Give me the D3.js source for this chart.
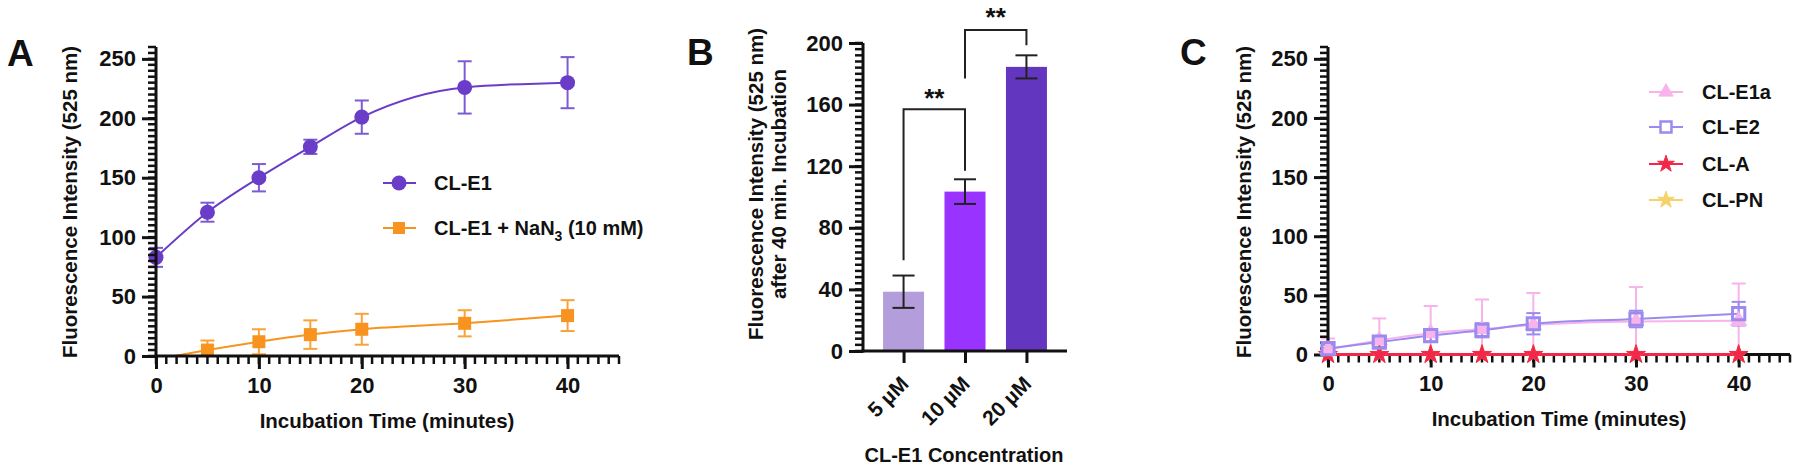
<!DOCTYPE html>
<meta charset="utf-8">
<style>
body { margin: 0; background: #fff; }
text { font-family: "Liberation Sans", Arial, sans-serif; font-weight: bold; fill: #111; }
</style>
<body>
<script src="https://cdn.jsdelivr.net/npm/d3@7"></script>
<script>

// ---- data ----
var aTime = [0, 5, 10, 15, 20, 30, 40],
	aE1 = [83, 121, 150, 176, 201, 226, 230],
	aE1Err = [8, 8, 11.5, 6, 14, 22, 21.5],
	aNaNTime = [5, 10, 15, 20, 30, 40],
	aNaN = [5, 12, 18, 22.5, 27.5, 34],
	aNaNErr = [8, 10.5, 12, 13, 11, 13],
	aNaNFitStart = 1.8;

var bCats = ["5 µM", "10 µM", "20 µM"],
	bVals = [38.5, 103.5, 184.5],
	bErrs = [10.5, 8, 7.5],
	bColors = ["#b39ddb", "#9933ff", "#6236be"],
	// [from, to, left leg bottom, top, right leg bottom, star level]
	bBrackets = [[0, 1, 59, 157, 117, 166], [1, 2, 177, 208.5, 198.5, 219]];

var cTime = [0, 5, 10, 15, 20, 30, 40],
	cE1a = [4, 12, 18, 21.5, 25, 28, 28.5],
	cE1aErr = [9.5, 18.5, 23, 25, 27, 29, 31.5],
	cE2 = [5, 10.5, 16, 20.5, 26, 30, 34.5],
	cE2Err = [3, 4, 5, 6, 9, 7, 10],
	cA = [0, 0, 0, 0, 0, 0, 0],
	cAErr = [1, 1, 1, 1, 1, 1, 1],
	cPN = [0, 0, 0, 0, 0, 0, 0],
	cPNErr = [0.5, 0.5, 0.5, 0.5, 0.5, 0.5, 0.5];

var width = 1800, height = 470;
var svg = d3.select("body").append("svg")
	.attr("width", width)
	.attr("height", height);

// y axis: ruler of minor ticks + labelled majors
function yAxis(g, y, x0, majors, minorStep) {
	var dom = y.domain();
	g.append("g").selectAll("line").data(d3.range(dom[0], dom[1] + 0.01, minorStep)).enter().append("line")
		.attr("x1", x0 - 8).attr("x2", x0)
		.attr("y1", function(d) { return y(d); }).attr("y2", function(d) { return y(d); })
		.attr("stroke", "#111").attr("stroke-width", 2.5);
	g.append("g")
		.attr("transform", "translate(" + x0 + ",0)")
		.call(d3.axisLeft(y).tickValues(majors).tickSize(14).tickPadding(6).tickSizeOuter(0))
		.call(function(s) {
			s.select("path").remove();
			s.selectAll("line").attr("stroke", "#111").attr("stroke-width", 3);
			s.selectAll("text").style("font-size", "22px").attr("fill", "#111");
		});
	g.append("line").attr("x1", x0).attr("x2", x0).attr("y1", y.range()[0] + 1.5).attr("y2", y.range()[1])
		.attr("stroke", "#111").attr("stroke-width", 3);
}

function xAxis(g, x, y0, majors, minorStep) {
	var dom = x.domain();
	g.append("g").selectAll("line").data(d3.range(dom[0], dom[1] + 0.01, minorStep)).enter().append("line")
		.attr("y1", y0).attr("y2", y0 + 8)
		.attr("x1", function(d) { return x(d); }).attr("x2", function(d) { return x(d); })
		.attr("stroke", "#111").attr("stroke-width", 2.5);
	g.append("g")
		.attr("transform", "translate(0," + y0 + ")")
		.call(d3.axisBottom(x).tickValues(majors).tickSize(13).tickPadding(8).tickSizeOuter(0))
		.call(function(s) {
			s.select("path").remove();
			s.selectAll("line").attr("stroke", "#111").attr("stroke-width", 3);
			s.selectAll("text").style("font-size", "22px").attr("fill", "#111");
		});
	g.append("line").attr("x1", x.range()[0] - 1.5).attr("x2", x.range()[1]).attr("y1", y0).attr("y2", y0)
		.attr("stroke", "#111").attr("stroke-width", 3);
}

function errBars(g, x, y, xs, vs, es, color, cap) {
	var grp = g.append("g").attr("stroke", color).attr("stroke-width", 2).attr("fill", "none");
	xs.forEach(function(t, i) {
		var lo = y(Math.max(0, vs[i] - es[i])), hi = y(vs[i] + es[i]), cx = x(t);
		grp.append("line").attr("x1", cx).attr("x2", cx).attr("y1", lo).attr("y2", hi);
		grp.append("line").attr("x1", cx - cap).attr("x2", cx + cap).attr("y1", hi).attr("y2", hi);
		if (vs[i] - es[i] > 0)
			grp.append("line").attr("x1", cx - cap).attr("x2", cx + cap).attr("y1", lo).attr("y2", lo);
	});
}

function fitLine(g, x, y, xs, vs, color, w) {
	g.append("path")
		.datum(xs.map(function(t, i) { return [t, vs[i]]; }))
		.attr("fill", "none").attr("stroke", color).attr("stroke-width", w || 2)
		.attr("d", d3.line().x(function(d) { return x(d[0]); }).y(function(d) { return y(d[1]); }).curve(d3.curveMonotoneX));
}

function yTitle(g, lines, cx, cy, size, gap) {
	var t = g.append("text").attr("transform", "translate(" + cx + "," + cy + ") rotate(-90)")
		.attr("text-anchor", "middle").style("font-size", size + "px");
	lines.forEach(function(l, i) {
		t.append("tspan").attr("x", 0)
			.attr("y", (i - (lines.length - 1) / 2) * (gap || 0) + size * 0.36).text(l);
	});
}

// ================= Panel A =================
var gA = svg.append("g");
var xA = d3.scaleLinear().domain([0, 45]).range([156, 619]),
	yA = d3.scaleLinear().domain([0, 260]).range([356, 47]);

gA.append("text").attr("x", 7).attr("y", 66).style("font-size", "37px").text("A");

fitLine(gA, xA, yA, aTime, aE1, "#6a3dc8");
fitLine(gA, xA, yA, [aNaNFitStart].concat(aNaNTime), [0].concat(aNaN), "#f7931e");
errBars(gA, xA, yA, aTime, aE1, aE1Err, "#7d5bd2", 7);
errBars(gA, xA, yA, aNaNTime, aNaN, aNaNErr, "#f9a23a", 7);

gA.selectAll(".dotE1").data(aTime).enter().append("circle")
	.attr("cx", function(d) { return xA(d); })
	.attr("cy", function(d, i) { return yA(aE1[i]); })
	.attr("r", 7.5).attr("fill", "#6a3dc8");
gA.selectAll(".sqN").data(aNaNTime).enter().append("rect")
	.attr("x", function(d) { return xA(d) - 6.5; })
	.attr("y", function(d, i) { return yA(aNaN[i]) - 6.5; })
	.attr("width", 13).attr("height", 13).attr("fill", "#f7931e");

yAxis(gA, yA, 156, d3.range(0, 251, 50), 5);
xAxis(gA, xA, 356, d3.range(0, 41, 10), 1);
gA.append("text").attr("x", 387).attr("y", 428).attr("text-anchor", "middle").style("font-size", "20.5px").text("Incubation Time (minutes)");
yTitle(gA, ["Fluorescence Intensity (525 nm)"], 70, 202, 20.5);

// legend A
var legA = gA.append("g");
legA.append("line").attr("x1", 383).attr("x2", 416).attr("y1", 183).attr("y2", 183).attr("stroke", "#6a3dc8").attr("stroke-width", 2);
legA.append("circle").attr("cx", 399).attr("cy", 183).attr("r", 7.5).attr("fill", "#6a3dc8");
legA.append("text").attr("x", 434).attr("y", 190).style("font-size", "20px").text("CL-E1");
legA.append("line").attr("x1", 383).attr("x2", 416).attr("y1", 228).attr("y2", 228).attr("stroke", "#f7931e").attr("stroke-width", 2);
legA.append("rect").attr("x", 393).attr("y", 222).attr("width", 12).attr("height", 12).attr("fill", "#f7931e");
var tA = legA.append("text").attr("x", 434).attr("y", 235).style("font-size", "20px");
tA.append("tspan").text("CL-E1 + NaN");
tA.append("tspan").attr("dy", 6).style("font-size", "14px").text("3");
tA.append("tspan").attr("dy", -6).text(" (10 mM)");

// ================= Panel B =================
var gB = svg.append("g");
var xB = d3.scalePoint().domain(bCats).range([863, 1067]).padding(0.66),
	yB = d3.scaleLinear().domain([0, 200]).range([351, 43]);

gB.append("text").attr("x", 687).attr("y", 65).style("font-size", "37px").text("B");

gB.selectAll(".bar").data(bCats).enter().append("rect")
	.attr("x", function(d) { return xB(d) - 20.5; })
	.attr("y", function(d, i) { return yB(bVals[i]); })
	.attr("width", 41)
	.attr("height", function(d, i) { return yB(0) - yB(bVals[i]); })
	.attr("fill", function(d, i) { return bColors[i]; });

bCats.forEach(function(c, i) {
	var cx = xB(c), lo = yB(bVals[i] - bErrs[i]), hi = yB(bVals[i] + bErrs[i]);
	gB.append("line").attr("x1", cx).attr("x2", cx).attr("y1", lo).attr("y2", hi).attr("stroke", "#222").attr("stroke-width", 2);
	[lo, hi].forEach(function(yy) {
		gB.append("line").attr("x1", cx - 11).attr("x2", cx + 11).attr("y1", yy).attr("y2", yy).attr("stroke", "#222").attr("stroke-width", 2);
	});
});

bBrackets.forEach(function(b) {
	var x1 = xB(bCats[b[0]]), x2 = xB(bCats[b[1]]);
	gB.append("path")
		.attr("d", "M" + x1 + "," + yB(b[2]) + "V" + yB(b[3]) + "H" + x2 + "V" + yB(b[4]))
		.attr("fill", "none").attr("stroke", "#222").attr("stroke-width", 2);
	gB.append("text").attr("x", (x1 + x2) / 2).attr("y", yB(b[5]) + 12)
		.attr("text-anchor", "middle").style("font-size", "26px").text("**");
});

yAxis(gB, yB, 863, d3.range(0, 201, 40), 4);
gB.append("g")
	.attr("transform", "translate(0,351)")
	.call(d3.axisBottom(xB).tickSize(12).tickFormat("").tickSizeOuter(0))
	.call(function(s) {
		s.select("path").attr("stroke", "#111").attr("stroke-width", 3).attr("d", "M861.5,0H1067");
		s.selectAll("line").attr("stroke", "#111").attr("stroke-width", 3);
	});
bCats.forEach(function(c) {
	gB.append("text").attr("transform", "translate(" + (xB(c) + 1) + ",380) rotate(-45)")
		.attr("text-anchor", "end").attr("dy", "0.35em").style("font-size", "21px").text(c);
});
gB.append("text").attr("x", 964).attr("y", 462).attr("text-anchor", "middle").style("font-size", "20px").text("CL-E1 Concentration");
yTitle(gB, ["Fluorescence Intensity (525 nm)", "after 40 min. Incubation"], 767.5, 184, 20.5, 23);

// ================= Panel C =================
var gC = svg.append("g");
var xC = d3.scaleLinear().domain([0, 45]).range([1328, 1790]),
	yC = d3.scaleLinear().domain([0, 260]).range([354.5, 47]);

gC.append("text").attr("x", 1180).attr("y", 65).style("font-size", "37px").text("C");

var cSeries = [
	{ name: "CL-E1a", v: cE1a, e: cE1aErr, color: "#f8b4ea", sym: d3.symbolTriangle, size: 110, open: false },
	{ name: "CL-E2", v: cE2, e: cE2Err, color: "#9b8bf0", sym: d3.symbolSquare, size: 150, open: true },
	{ name: "CL-A", v: cA, e: cAErr, color: "#f2284a", sym: d3.symbolStar, size: 110, open: false },
	{ name: "CL-PN", v: cPN, e: cPNErr, color: "#f6d36a", sym: d3.symbolStar, size: 110, open: false }
];

cSeries.forEach(function(s) {
	fitLine(gC, xC, yC, cTime, s.v, s.color, 2);
	errBars(gC, xC, yC, cTime, s.v, s.e, s.color, 7);
});

yAxis(gC, yC, 1328, d3.range(0, 251, 50), 5);
xAxis(gC, xC, 354.5, d3.range(0, 41, 10), 1);

// series at zero sit on top of the axis
fitLine(gC, xC, yC, cTime, cA, "#f2284a", 3);
[cSeries[3], cSeries[2], cSeries[0], cSeries[1]].forEach(function(s) {
	gC.selectAll(null).data(cTime).enter().append("path")
		.attr("transform", function(d, i) { return "translate(" + xC(d) + "," + yC(s.v[i]) + ")"; })
		.attr("d", d3.symbol().type(s.sym).size(s.size))
		.attr("fill", s.open ? "none" : s.color)
		.attr("stroke", s.color).attr("stroke-width", s.open ? 3 : 1);
});

gC.append("text").attr("x", 1559).attr("y", 426).attr("text-anchor", "middle").style("font-size", "20.5px").text("Incubation Time (minutes)");
yTitle(gC, ["Fluorescence Intensity (525 nm)"], 1244, 202, 20.5);

var legY = [92, 127, 164, 200];
cSeries.forEach(function(s, i) {
	var lg = gC.append("g").attr("transform", "translate(0," + legY[i] + ")");
	lg.append("line").attr("x1", 1649).attr("x2", 1683).attr("stroke", s.color).attr("stroke-width", 2);
	lg.append("path").attr("transform", "translate(1666,0)")
		.attr("d", d3.symbol().type(s.sym).size(s.size * 0.8))
		.attr("fill", s.open ? "#fff" : s.color).attr("stroke", s.color).attr("stroke-width", s.open ? 2.5 : 1);
	lg.append("text").attr("x", 1702).attr("y", 7).style("font-size", "20px").text(s.name);
});

</script>
</body>
</html>
